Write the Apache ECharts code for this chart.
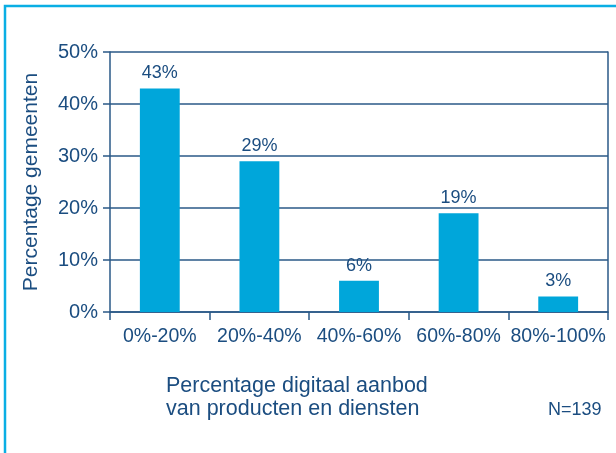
<!DOCTYPE html>
<html>
<head>
<meta charset="utf-8">
<script src="https://cdn.jsdelivr.net/npm/echarts@6/dist/echarts.min.js"></script>
<style>html,body{margin:0;padding:0;background:#fff;}#c{width:616px;height:453px;}</style>
</head>
<body>
<div id="c"></div>
<script>
const categories = ['0%-20%', '20%-40%', '40%-60%', '60%-80%', '80%-100%'];
const values = [43, 29, 6, 19, 3];
const yTicks = [0, 10, 20, 30, 40, 50];
const yAxisName = 'Percentage gemeenten';
const xAxisNameLines = ['Percentage digitaal aanbod', 'van producten en diensten'];
const noteText = 'N=139';

const textColor = '#1b4d80';
const lineColor = '#2a5887';
const font = 'Liberation Sans, Arial, Helvetica, sans-serif';

const chart = echarts.init(document.getElementById('c'), null, {renderer: 'canvas'});
chart.setOption({
  animation: false,
  backgroundColor: '#ffffff',
  grid: {left: 110, right: 8, top: 52, bottom: 141, containLabel: false},
  xAxis: {
    type: 'category',
    data: categories,
    axisLine: {show: true, lineStyle: {color: lineColor, width: 1.5}},
    axisTick: {show: true, alignWithLabel: false, interval: 0, length: 8, lineStyle: {color: lineColor, width: 1.5}},
    axisLabel: {color: textColor, fontSize: 19.5, fontFamily: font, margin: 15, interval: 0}
  },
  yAxis: [{
    type: 'value',
    min: yTicks[0], max: yTicks[yTicks.length - 1], interval: 10,
    name: yAxisName,
    nameLocation: 'middle',
    nameGap: 68,
    nameTextStyle: {color: textColor, fontSize: 21, fontFamily: font},
    axisLine: {show: true, lineStyle: {color: lineColor, width: 1.5}},
    axisTick: {show: true, length: 7, lineStyle: {color: lineColor, width: 1.5}},
    axisLabel: {color: textColor, fontSize: 20, fontFamily: font, margin: 12, formatter: v => v + '%'},
    splitLine: {show: true, lineStyle: {color: lineColor, width: 1.5}}
  }, {
    type: 'value',
    position: 'right',
    min: yTicks[0], max: yTicks[yTicks.length - 1], interval: 10,
    axisLine: {show: true, lineStyle: {color: lineColor, width: 1.5}},
    axisTick: {show: false},
    axisLabel: {show: false},
    splitLine: {show: false}
  }],
  series: [{
    type: 'bar',
    data: values,
    barWidth: '40%',
    itemStyle: {color: '#00a6da'},
    label: {show: true, position: 'top', distance: 6, color: textColor, fontSize: 18, fontFamily: font, formatter: p => p.value + '%'}
  }],
  graphic: [
    {type: 'rect', silent: true, shape: {x: 5, y: 6, width: 700, height: 600},
     style: {fill: 'none', stroke: '#0aaee4', lineWidth: 2.5}, z: -10},
    {type: 'text', left: 166, top: 375,
     style: {text: xAxisNameLines.join('\n'), fill: textColor, fontSize: 21.5, fontFamily: font, lineHeight: 23}},
    {type: 'text', left: 548, top: 401,
     style: {text: noteText, fill: textColor, fontSize: 18, fontFamily: font}}
  ]
});
</script>
</body>
</html>
